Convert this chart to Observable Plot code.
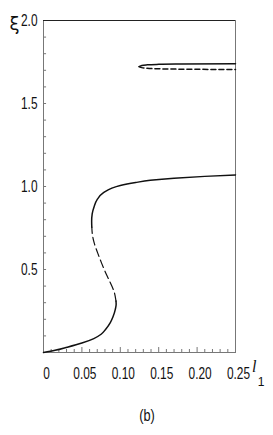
<!DOCTYPE html>
<html>
<head>
<meta charset="utf-8">
<script src="https://cdn.jsdelivr.net/npm/d3@7"></script>
<script src="https://cdn.jsdelivr.net/npm/@observablehq/plot@0.6"></script>
<style>
  body { margin: 0; background: #fff; }
  #wrap { position: relative; width: 273px; height: 435px; }
  #cap { position: absolute; left: 132px; top: 406px; width: 30px; text-align: center;
         font: 17px "Liberation Sans", sans-serif; color: #111; transform: scale(0.75, 1); transform-origin: 50% 50%; }
</style>
</head>
<body>
<div id="wrap"><div id="chart"></div><div id="cap">(b)</div></div>
<script>
// tick values and labels
const xTicks = [0, 0.05, 0.10, 0.15, 0.20, 0.25];
const xTickLabels = ["0", "0.05", "0.10", "0.15", "0.20", "0.25"];
const yTicks = [0.5, 1.0, 1.5, 2.0];
const yTickLabels = ["0.5", "1.0", "1.5", "2.0"];
const xMinor = d3.range(1, 25).map(i => i / 100);
const yMinor = d3.range(1, 20).map(i => i / 10);

// lower branch (l1, xi)
const lowSolidA = [[0,0],[0.015,0.013],[0.031,0.032],[0.05,0.057],[0.0655,0.084],[0.075,0.11],[0.081,0.14],[0.087,0.18],[0.0905,0.215],[0.0935,0.26],[0.0946,0.29],[0.0944,0.31]];
const lowDashed = [[0.0944,0.31],[0.092,0.365],[0.086,0.43],[0.080,0.49],[0.0755,0.54],[0.0705,0.60],[0.066,0.66],[0.0637,0.71],[0.0629,0.755]];
const lowSolidB = [[0.0629,0.755],[0.0627,0.79],[0.0634,0.835],[0.066,0.88],[0.070,0.922],[0.0785,0.964],[0.089,0.99],[0.100,1.006],[0.12,1.024],[0.139,1.037],[0.17,1.05],[0.21,1.061],[0.25,1.07]];
// upper branch
const upSolid = [[0.1245,1.722],[0.128,1.729],[0.135,1.733],[0.15,1.736],[0.18,1.738],[0.25,1.740]];
const upDashed = [[0.1245,1.722],[0.128,1.716],[0.135,1.712],[0.15,1.709],[0.2,1.706],[0.25,1.705]];

const font = '"Liberation Sans", Arial, sans-serif';
const lineOpts = {x: d => d[0], y: d => d[1], stroke: "#111", strokeWidth: 1.5, curve: "monotone-y"};

const chart = Plot.plot({
  width: 273, height: 395,
  marginLeft: 43, marginRight: 38, marginTop: 20, marginBottom: 43,
  style: {fontFamily: font, fontSize: "17px", color: "#111", background: "#fff"},
  x: {domain: [0, 0.25]},
  y: {domain: [0, 2]},
  marks: [
    Plot.frame({stroke: "#777"}),
    Plot.ruleY([2], {stroke: "#222"}),
    Plot.ruleX(xMinor, {x: d => d, y1: 0, y2: d => (Math.abs(d * 20 - Math.round(d * 20)) < 1e-6 ? 0.03 : 0.018), stroke: "#777"}),
    Plot.ruleY(yMinor, {y: d => d, x1: 0, x2: 0.004, stroke: "#777"}),
    Plot.axisX({ticks: xTicks, tickSize: 0, tickPadding: 14, dx: 3, tickFormat: (d, i) => xTickLabels[i], fontSize: 17, label: null}),
    Plot.axisY({ticks: yTicks, tickSize: 0, tickPadding: 6, tickFormat: (d, i) => yTickLabels[i], fontSize: 17, label: null}),
    Plot.line(lowSolidA, lineOpts),
    Plot.line(lowDashed, {...lineOpts, strokeWidth: 1.2, strokeDasharray: "8,4"}),
    Plot.line(lowSolidB, lineOpts),
    Plot.line(upSolid, {...lineOpts, curve: "monotone-x"}),
    Plot.line(upDashed, {...lineOpts, curve: "monotone-x", strokeDasharray: "5,3"}),
    Plot.text(["ξ"], {frameAnchor: "top-left", dx: -34, dy: -3, fontSize: 18, fontFamily: "DejaVu Sans", fill: "#111"}),
    Plot.text(["l"], {frameAnchor: "bottom-right", dx: 21, dy: 19, fontSize: 16, fontStyle: "italic", fontFamily: "Liberation Serif", fill: "#111"}),
    Plot.text(["1"], {frameAnchor: "bottom-right", dx: 29, dy: 33, fontSize: 12, fill: "#111"})
  ]
});
// condense tick labels horizontally to mimic the narrow typeface
chart.querySelectorAll('g[aria-label="x-axis tick label"] text, g[aria-label="y-axis tick label"] text').forEach(t => {
  const tr = t.getAttribute("transform") || "";
  t.setAttribute("transform", tr + " scale(0.7,1)");
});
document.getElementById("chart").appendChild(chart);
</script>
</body>
</html>
